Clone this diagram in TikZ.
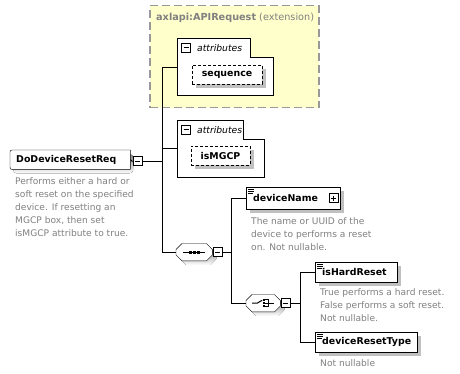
\documentclass[tikz,border=0pt]{standalone}
\usepackage{fontspec}
\setmainfont{DejaVu Sans}
\usetikzlibrary{shadows,calc}
\definecolor{extfill}{HTML}{FFFFCC}
\definecolor{extline}{HTML}{999999}
\definecolor{shade}{HTML}{C0C0C0}
\definecolor{note}{HTML}{808080}
\pgfdeclarelayer{bg}
\pgfsetlayers{bg,main}
% octagon outline around a rectangular node, #2 = extra shift keys
\newcommand\octo[2]{([#2,xshift=6pt]#1.north west) -- ([#2,xshift=-6pt]#1.north east)
  -- ([#2,yshift=-6pt]#1.north east) -- ([#2,yshift=6pt]#1.south east)
  -- ([#2,xshift=-6pt]#1.south east) -- ([#2,xshift=6pt]#1.south west)
  -- ([#2,yshift=6pt]#1.south west) -- ([#2,yshift=-6pt]#1.north west) -- cycle}
\begin{document}
\begin{tikzpicture}[x=1pt,y=-1pt,line width=1pt,
  conn/.style={draw=black,line width=1pt},
  namefont/.style={font=\bfseries\fontsize{9.4}{12}\selectfont},
  desc/.style={anchor=north west,inner sep=0,text=note,align=left,
    font=\fontsize{9.1}{13}\selectfont},
  elem/.style={draw,fill=white,anchor=north west,inner xsep=7pt,inner ysep=0,
    minimum height=20,align=left,namefont,
    drop shadow={shadow xshift=4pt,shadow yshift=-4pt,fill=shade,opacity=1}},
  attrbox/.style={draw,dash pattern=on 3pt off 2pt,fill=white,inner sep=0,
    minimum height=19,namefont,
    drop shadow={shadow xshift=4pt,shadow yshift=-4pt,fill=shade,opacity=1}},
  grp/.style={anchor=north west,inner sep=0},
  tog/.style={draw,fill=white,inner sep=0,minimum size=9,line width=1pt,
    path picture={\draw[line width=1pt]
      ([xshift=2pt]path picture bounding box.west) --
      ([xshift=-2pt]path picture bounding box.east);}},
  togplus/.style={tog,path picture={\draw[line width=1pt]
      ([xshift=2pt]path picture bounding box.west) --
      ([xshift=-2pt]path picture bounding box.east)
      ([yshift=-2pt]path picture bounding box.north) --
      ([yshift=2pt]path picture bounding box.south);}},
  attrlabel/.style={anchor=west,inner sep=0,font=\itshape\fontsize{9.2}{12}\selectfont},
  simple/.style={line width=0.7pt},
]
\useasboundingbox (0,0) rectangle (460,374);

% ---- base type frame ----
\begin{pgfonlayer}{bg}
\node[grp,draw=extline,fill=extfill,line width=1.5pt,dash pattern=on 8pt off 4pt,
  minimum width=169,minimum height=102] (ext) at (149,5) {};
\end{pgfonlayer}
\node[anchor=base west,inner sep=0,text=note,font=\fontsize{9.7}{12}\selectfont]
  (extt) at (156,21) {\textbf{axlapi:APIRequest} (extension)};

% ---- inherited attributes ----
\node[grp,minimum width=96,minimum height=57] (ag1) at (177,38) {};
\draw[fill=white] (ag1.north west) -- ++(73,0) -- ++(0,19) -| (ag1.south east)
  -- (ag1.south west) -- cycle;
\node[tog] (ag1t) at (186,48) {};
\node[attrlabel] (ag1l) at (197,48) {attributes};
\node[attrbox,minimum width=70] (seqattr) at (227,74.5) {sequence};

% ---- own attributes ----
\node[grp,minimum width=87,minimum height=57] (ag2) at (177,120) {};
\draw[fill=white] (ag2.north west) -- ++(66,0) -- ++(0,19) -| (ag2.south east)
  -- (ag2.south west) -- cycle;
\node[tog] (ag2t) at (186,130) {};
\node[attrlabel] (ag2l) at (197,130) {attributes};
\node[attrbox,minimum width=59] (mgcp) at (220.5,156) {isMGCP};

% ---- root element ----
\node[grp,minimum width=120,minimum height=19,inner xsep=6pt,text width=108,
  align=left,namefont] (root) at (10,150) {DoDeviceResetReq};
\begin{pgfonlayer}{bg}
\fill[shade,rounded corners=4pt] ([xshift=3pt,yshift=-4pt]root.north west)
  rectangle ([xshift=3pt,yshift=-4pt]root.south east);
\draw[fill=white] (root.south east) -- (root.north east)
  -- ([xshift=4pt]root.north west) .. controls (root.north west) .. ([yshift=-4pt]root.north west)
  -- ([yshift=4pt]root.south west) .. controls (root.south west) .. ([xshift=4pt]root.south west)
  -- cycle;
\end{pgfonlayer}
\node[tog] (roott) at (137.5,161.5) {};
\node[desc] (rootd) at (15,177) {Performs either a hard or\\soft reset on the specified\\device. If resetting an\\MGCP box, then set\\isMGCP attribute to true.};

% ---- sequence compositor ----
\node[grp,minimum width=36,minimum height=17] (seq) at (176,243.5) {};
\begin{pgfonlayer}{bg}
\fill[shade] \octo{seq}{xshift=4pt,yshift=-4pt};
\draw[fill=white] \octo{seq}{};
\end{pgfonlayer}
\draw[line width=1pt] ([xshift=-11pt]seq.center) -- ([xshift=11pt]seq.center);
\foreach \dx in {-4,0,4}
  \fill ([xshift=\dx pt]seq.center) ++(-1.5,-1.5) rectangle ++(3,3);
\node[tog] (seqt) at (217.5,252) {};

% ---- element deviceName ----
\node[elem,minimum height=22,text width=80] (dn) at (246,187) {deviceName};
\node[togplus] (dnt) at (333.5,198) {};
\node[desc] (dnd) at (251,217) {The name or UUID of the\\device to performs a reset\\on. Not nullable.};

% ---- choice compositor ----
\node[grp,minimum width=34,minimum height=17] (cho) at (246,294.5) {};
\begin{pgfonlayer}{bg}
\fill[shade] \octo{cho}{xshift=4pt,yshift=-4pt};
\draw[fill=white] \octo{cho}{};
\end{pgfonlayer}
\draw[line width=1pt] ([xshift=-11pt]cho.center) -- ([xshift=-6pt]cho.center)
  -- ([xshift=-1pt,yshift=3pt]cho.center);
\foreach \dy in {-3,0,3}
  \fill ([xshift=1pt,yshift=\dy pt]cho.center) ++(-1,-1) rectangle ++(2,2);
\draw[line width=1pt] ([xshift=1pt]cho.center) -- ([xshift=5pt]cho.center)
  ([xshift=2pt,yshift=3.5pt]cho.center) -- ([xshift=5pt,yshift=3.5pt]cho.center)
  -- ([xshift=5pt,yshift=-3.5pt]cho.center) -- ([xshift=2pt,yshift=-3.5pt]cho.center)
  ([xshift=5pt]cho.center) -- ([xshift=11pt]cho.center);
\node[tog] (chot) at (285.5,303) {};

% ---- elements in the choice ----
\node[elem,minimum height=20,text width=68] (hr) at (315,262) {isHardReset};
\node[desc] (hrd) at (320,288) {True performs a hard reset.\\False performs a soft reset.\\Not nullable.};
\node[elem,minimum height=20,text width=88] (rt) at (315,332) {deviceResetType};
\node[desc] (rtd) at (320,359) {Not nullable};

% simple-content marks
\foreach \n in {dn,hr,rt}
  \draw[simple] ([xshift=2pt,yshift=-2.5pt]\n.north west) -- ++(6,0)
    ([xshift=2pt,yshift=-4.5pt]\n.north west) -- ++(6,0)
    ([xshift=2pt,yshift=-6.5pt]\n.north west) -- ++(5,0);

% ---- connectors ----
\coordinate (trunk) at (162,0);
\coordinate (ag1c) at ($(ag1.north west)+(0,30)$);
\coordinate (ag2c) at ($(ag2.north west)+(0,29)$);
\draw[conn] (roott.east) -- (roott.east -| trunk);
\draw[conn] (ag1c) -- (ag1c -| trunk) -- (seq.west -| trunk) -- (seq.west);
\draw[conn] (ag2c) -- (ag2c -| trunk);
\coordinate (br2) at (231,0);
\draw[conn] (seq.east) -- (seqt.west);
\draw[conn] (dn.west) -- (dn.west -| br2) -- (cho.west -| br2) -- (cho.west);
\draw[conn] (seqt.east) -- (seqt.east -| br2);
\coordinate (br3) at (300,0);
\draw[conn] (cho.east) -- (chot.west);
\draw[conn] (hr.west) -- (hr.west -| br3) -- (rt.west -| br3) -- (rt.west);
\draw[conn] (chot.east) -- (chot.east -| br3);
\draw[conn] (root.east) -- (roott.west);
\end{tikzpicture}
\end{document}
